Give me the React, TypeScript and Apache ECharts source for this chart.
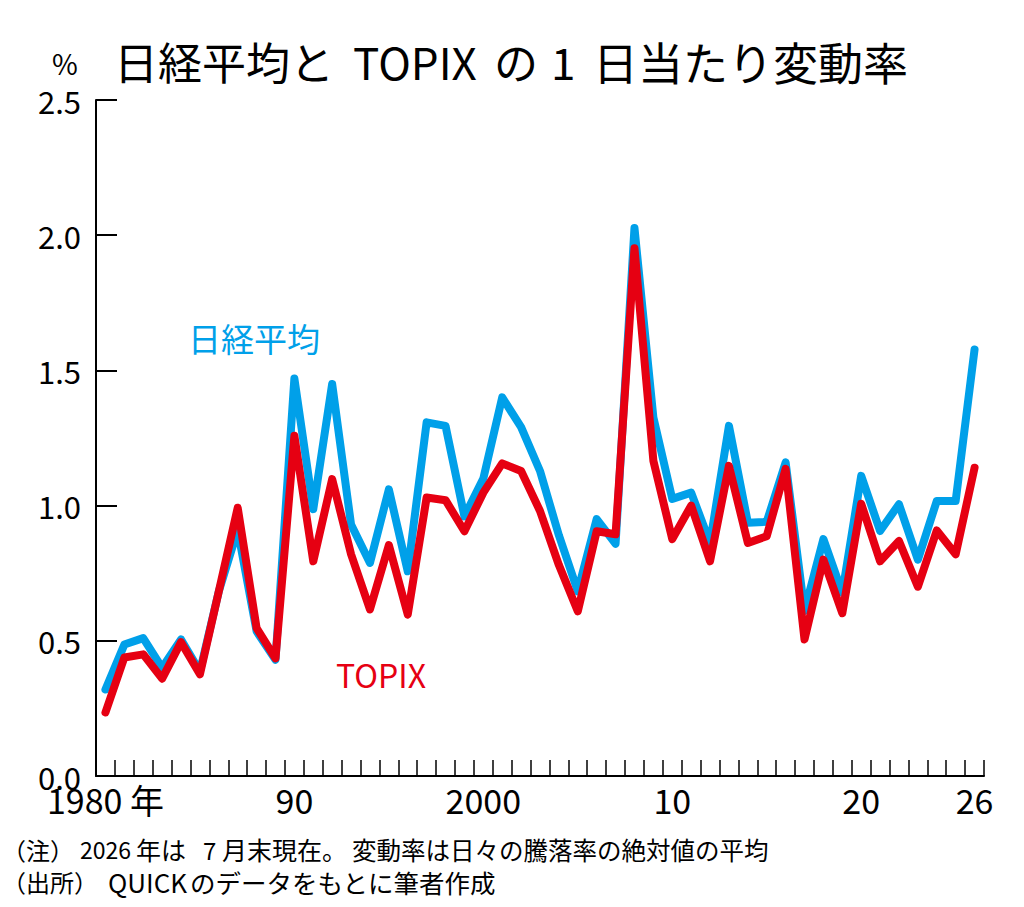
import React, { useEffect, useRef } from "react";
import * as echarts from "echarts";

const years: string[] = [];
for (let y = 1980; y <= 2026; y++) years.push(String(y));

const nikkei = [
  0.32, 0.486, 0.51, 0.40, 0.505, 0.386, 0.683, 0.91, 0.535, 0.43,
  1.47, 0.987, 1.45, 0.93, 0.788, 1.06, 0.757, 1.308, 1.295, 0.96,
  1.10, 1.40, 1.29, 1.128, 0.89, 0.683, 0.95, 0.859, 2.027, 1.326,
  1.025, 1.048, 0.862, 1.295, 0.937, 0.94, 1.16, 0.61, 0.876, 0.677,
  1.11, 0.906, 1.005, 0.80, 1.017, 1.017, 1.577,
];

const topix = [
  0.235, 0.438, 0.45, 0.36, 0.495, 0.376, 0.683, 0.992, 0.547, 0.435,
  1.258, 0.794, 1.098, 0.82, 0.616, 0.854, 0.597, 1.03, 1.02, 0.905,
  1.048, 1.156, 1.128, 0.98, 0.78, 0.609, 0.905, 0.894, 1.952, 1.166,
  0.876, 1.0, 0.794, 1.147, 0.862, 0.887, 1.136, 0.505, 0.80, 0.602,
  1.007, 0.794, 0.869, 0.70, 0.908, 0.82, 1.14,
];

const xLabels: Record<string, string> = {
  "1980": "1980 年",
  "1990": "90",
  "2000": "2000",
  "2010": "10",
  "2020": "20",
  "2026": "26",
};

const yTicks = [0, 0.5, 1.0, 1.5, 2.0, 2.5];

// Title "日経平均と TOPIX の 1 日当たり変動率", typeset in pieces: [text, x, fontSize]
const titleParts: [string, number, number][] = [
  ["日経平均と", 114, 44],
  ["TOPIX", 353, 44],
  ["の", 494, 44],
  ["1", 551, 44],
  ["日当たり変動率", 593, 45],
];
// Note "（注）2026 年は 7 月末現在。変動率は日々の騰落率の絶対値の平均"
const note1Parts: [string, number, number][] = [
  ["（注）", 2, 24],
  ["2026", 80, 23],
  ["年は", 136, 25],
  ["7", 203, 24],
  ["月末現在。", 222, 25],
  ["変動率は日々の騰落率の絶対値の平均", 352, 24.5],
];
// Note "（出所）QUICK のデータをもとに筆者作成"
const note2Parts: [string, number, number][] = [
  ["（出所）", 2, 24],
  ["QUICK", 108, 26],
  ["のデータをもとに筆者作成", 190, 25.5],
];

const FONT = '"Noto Sans CJK JP", "Noto Sans", sans-serif';
const BLUE = "#00a0e9";
const RED = "#e60012";

function textEl(text: string, x: number, y: number, fontSize: number, fill = "#000") {
  return {
    type: "text",
    x,
    y,
    style: {
      text,
      fontSize,
      fill,
      fontFamily: FONT,
      verticalAlign: "middle",
      align: "left",
      lineHeight: fontSize,
    },
  };
}

export default function App() {
  const ref = useRef<HTMLDivElement>(null);

  useEffect(() => {
    if (!ref.current) return;
    const chart = echarts.init(ref.current, undefined, { renderer: "svg" });
    const graphics: any[] = [];
    graphics.push(textEl("%", 52, 63, 28));
    titleParts.forEach(([t, x, s]) => graphics.push(textEl(t, x, 61, s)));
    graphics.push(textEl("日経平均", 188, 338, 33, BLUE));
    graphics.push(textEl("TOPIX", 336, 674, 32, RED));
    note1Parts.forEach(([t, x, s]) => graphics.push(textEl(t, x, 849, s)));
    note2Parts.forEach(([t, x, s]) => graphics.push(textEl(t, x, 881, s)));

    chart.setOption({
      animation: false,
      backgroundColor: "#ffffff",
      textStyle: { fontFamily: FONT },
      grid: { left: 96, right: 40, top: 100, bottom: 131, containLabel: false },
      xAxis: {
        type: "category",
        data: years,
        boundaryGap: true,
        axisLine: { show: true, lineStyle: { color: "#000", width: 2 } },
        axisTick: {
          show: true,
          inside: true,
          length: 16,
          interval: 0,
          lineStyle: { color: "#000", width: 1.5 },
        },
        axisLabel: {
          show: true,
          interval: (_i: number, v: string) => v in xLabels,
          formatter: (v: string) => xLabels[v] ?? "",
          color: "#000",
          fontSize: 34,
          fontFamily: FONT,
          margin: 6,
        },
        splitLine: { show: false },
      },
      yAxis: {
        type: "value",
        min: yTicks[0],
        max: yTicks[yTicks.length - 1],
        interval: 0.5,
        axisLine: { show: true, lineStyle: { color: "#000", width: 2 } },
        axisTick: {
          show: true,
          inside: true,
          length: 21,
          lineStyle: { color: "#000", width: 2 },
        },
        axisLabel: {
          formatter: (v: number) => v.toFixed(1),
          color: "#000",
          fontSize: 31,
          fontFamily: FONT,
          margin: 15,
        },
        splitLine: { show: false },
      },
      series: [
        {
          name: "日経平均",
          type: "line",
          data: nikkei,
          symbol: "none",
          lineStyle: { color: BLUE, width: 8, join: "round", cap: "round" },
          z: 2,
        },
        {
          name: "TOPIX",
          type: "line",
          data: topix,
          symbol: "none",
          lineStyle: { color: RED, width: 8, join: "round", cap: "round" },
          z: 3,
        },
      ],
      graphic: graphics,
    });
    return () => chart.dispose();
  }, []);

  return (
    <div
      ref={ref}
      style={{ position: "fixed", left: 0, top: 0, width: 1024, height: 907 }}
    />
  );
}
